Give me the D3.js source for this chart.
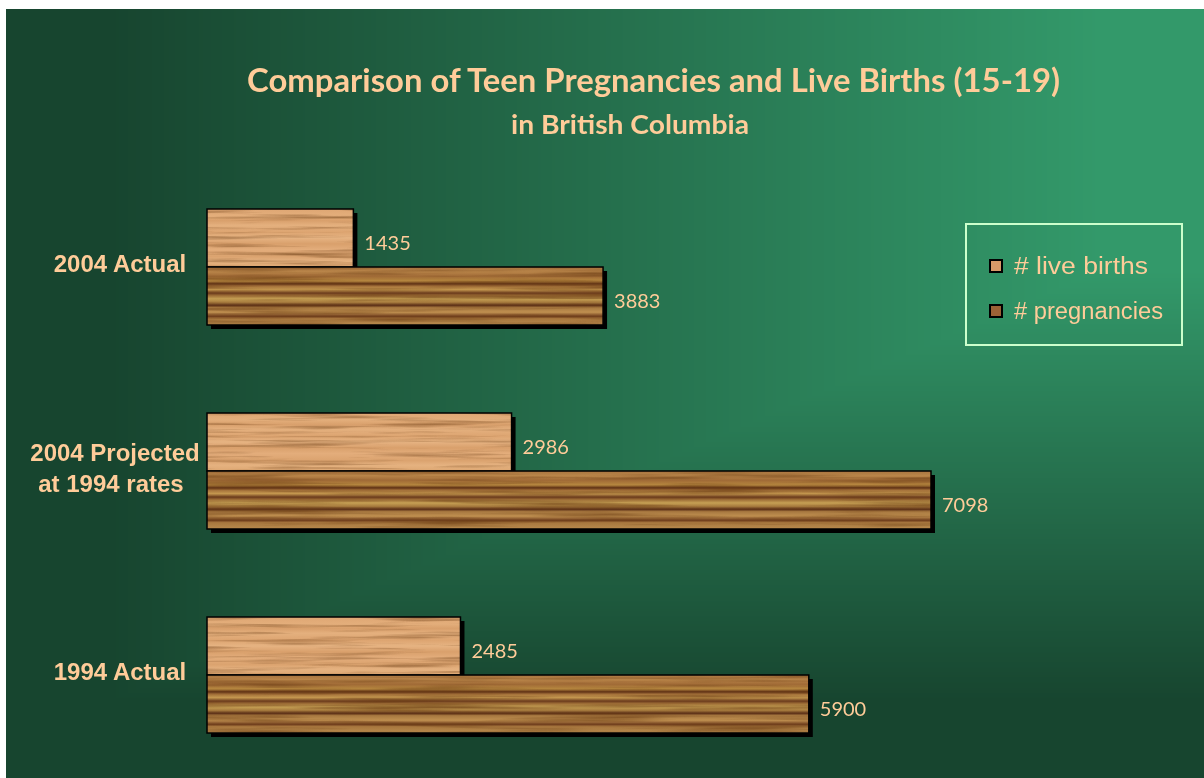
<!DOCTYPE html>
<html>
<head>
<meta charset="utf-8">
<script src="https://cdn.jsdelivr.net/npm/d3@7/dist/d3.min.js"></script>
<style>
  html, body { margin: 0; padding: 0; background: #ffffff; }
  #wrap { position: relative; width: 1204px; height: 778px; overflow: hidden; }
  #bg { position: absolute; left: 0; top: 0; }
  #chart { position: absolute; left: 0; top: 0; }
</style>
</head>
<body>
<div id="wrap">
  <canvas id="bg" width="1204" height="778"></canvas>
  <svg id="chart" width="1204" height="778"></svg>
</div>
<script>
// ---------- data ----------
const categories = ["2004 Actual", "2004 Projected|at 1994 rates", "1994 Actual"];
const seriesNames = ["# live births", "# pregnancies"];
const liveBirths = [1435, 2986, 2485];
const pregnancies = [3883, 7098, 5900];
const titleText = "Comparison of Teen Pregnancies and Live Births (15-19)";
const subtitleText = "in British Columbia";

// ---------- background (corner gradient) ----------
(function drawBg() {
  const cv = document.getElementById("bg");
  const ctx = cv.getContext("2d");
  const W = 1204, H = 778;
  const img = ctx.createImageData(W, H);
  const dark = [23, 69, 47], bright = [51, 153, 106];
  for (let y = 0; y < H; y++) {
    for (let x = 0; x < W; x++) {
      const i = (y * W + x) * 4;
      if (x < 6 || y < 9) { img.data[i] = 255; img.data[i+1] = 255; img.data[i+2] = 255; img.data[i+3] = 255; continue; }
      const h = Math.max(0, Math.min(1, (x - 110) / 990));
      const v = Math.max(0, Math.min(1, (700 - y) / 430));
      const t = Math.min(h, v);
      img.data[i]   = dark[0] + (bright[0] - dark[0]) * t;
      img.data[i+1] = dark[1] + (bright[1] - dark[1]) * t;
      img.data[i+2] = dark[2] + (bright[2] - dark[2]) * t;
      img.data[i+3] = 255;
    }
  }
  ctx.putImageData(img, 0, 0);
})();

// ---------- chart ----------
const svg = d3.select("#chart");
const defs = svg.append("defs");

// light wood gradient
const lightStops = [
  [0, "#dfa774"], [0.12, "#e3ae7b"], [0.2, "#d9a06c"], [0.28, "#e4b07e"], [0.4, "#dda571"],
  [0.5, "#e6b382"], [0.6, "#d9a06c"], [0.7, "#e3ad7b"], [0.82, "#dba36f"], [0.9, "#e5b280"], [1, "#dda772"]
];
const lg = defs.append("linearGradient").attr("id", "woodLight").attr("x1", 0).attr("y1", 0).attr("x2", 0).attr("y2", 1);
lightStops.forEach(s => lg.append("stop").attr("offset", s[0]).attr("stop-color", s[1]));

// dark wood gradient
const darkStops = [
  [0, "#a8743f"], [0.08, "#b98549"], [0.16, "#a06a36"], [0.24, "#b6873f"], [0.29, "#5e3014"], [0.33, "#a4713a"],
  [0.39, "#c4974f"], [0.45, "#6a3a1c"], [0.49, "#9a6a34"], [0.55, "#c6a054"], [0.61, "#a67a3d"], [0.66, "#5a2e16"],
  [0.7, "#a77840"], [0.78, "#c09050"], [0.85, "#6e3c1c"], [0.89, "#a8773e"], [1, "#b88a4d"]
];
const dg = defs.append("linearGradient").attr("id", "woodDark").attr("x1", 0).attr("y1", 0).attr("x2", 0).attr("y2", 1);
darkStops.forEach(s => dg.append("stop").attr("offset", s[0]).attr("stop-color", s[1]));

// grain filters
function grain(id, freq, mult, off, seed) {
  const f = defs.append("filter").attr("id", id).attr("x", 0).attr("y", 0).attr("width", 1).attr("height", 1)
    .attr("filterUnits", "objectBoundingBox").attr("color-interpolation-filters", "sRGB");
  f.append("feTurbulence").attr("type", "fractalNoise").attr("baseFrequency", freq).attr("numOctaves", 3).attr("seed", seed).attr("result", "n");
  f.append("feColorMatrix").attr("in", "n").attr("type", "matrix")
    .attr("values", `0 0 0 0 0.42  0 0 0 0 0.24  0 0 0 0 0.08  ${mult} 0 0 0 ${off}`).attr("result", "c");
  f.append("feComposite").attr("in", "c").attr("in2", "SourceGraphic").attr("operator", "in");
}
grain("grainLight", "0.008 0.25", 1.3, -0.62, 7);
grain("grainDark", "0.006 0.2", 1.6, -0.72, 4);

const x = d3.scaleLinear().domain([0, 8000]).range([207, 1023]);
const y = d3.scaleBand().domain(categories).range([165, 777]).paddingInner(88 / 204).paddingOuter(44 / 204);
const ySub = d3.scaleBand().domain(seriesNames).range([0, y.bandwidth()]).padding(0);

const fills = { "# live births": "url(#woodLight)", "# pregnancies": "url(#woodDark)" };
const grains = { "# live births": "url(#grainLight)", "# pregnancies": "url(#grainDark)" };

const rows = [];
categories.forEach((c, i) => {
  rows.push({ cat: c, series: seriesNames[0], value: liveBirths[i] });
  rows.push({ cat: c, series: seriesNames[1], value: pregnancies[i] });
});

const shadowG = svg.append("g");
const barG = svg.append("g");
rows.forEach(d => {
  const x0 = x(0), x1 = x(d.value);
  const yy = y(d.cat) + ySub(d.series), hh = ySub.bandwidth();
  shadowG.append("rect").attr("x", x0 + 4).attr("y", yy + 4).attr("width", x1 - x0).attr("height", hh).attr("fill", "#000");
  const g = barG.append("g");
  g.append("rect").attr("x", x0).attr("y", yy).attr("width", x1 - x0).attr("height", hh).attr("fill", fills[d.series]);
  g.append("rect").attr("x", x0).attr("y", yy).attr("width", x1 - x0).attr("height", hh).attr("fill", "#fff").attr("filter", grains[d.series]);
  g.append("rect").attr("x", x0).attr("y", yy).attr("width", x1 - x0).attr("height", hh).attr("fill", "none")
    .attr("stroke", "#000").attr("stroke-width", 1.5);
});

// value labels
svg.append("g").selectAll("text").data(rows).join("text")
  .attr("x", d => x(d.value) + 11)
  .attr("y", d => y(d.cat) + ySub(d.series) + ySub.bandwidth() / 2 + 12)
  .attr("fill", "#ffcc99")
  .attr("font-family", "Lato, 'Open Sans', sans-serif")
  .attr("font-size", 20)
  .text(d => d.value);

// category labels
const catG = svg.append("g");
categories.forEach(c => {
  const lines = c.split("|");
  const cy = y(c) + y.bandwidth() / 2 - 3;
  const lh = 31;
  lines.forEach((ln, k) => {
    catG.append("text")
      .attr("x", lines.length > 1 ? 115 - k * 4 : 120)
      .attr("y", cy + (k - (lines.length - 1) / 2) * lh + 8)
      .attr("text-anchor", "middle")
      .attr("fill", "#ffcc99")
      .attr("font-family", "'Liberation Sans', Arial, sans-serif")
      .attr("font-weight", "bold")
      .attr("font-size", 24)
      .text(ln);
  });
});

// title
svg.append("text").attr("x", 653.5).attr("y", 92).attr("text-anchor", "middle")
  .attr("fill", "#ffcc99").attr("font-family", "Lato, sans-serif").attr("font-weight", "bold")
  .attr("font-size", 33).attr("textLength", 813).attr("lengthAdjust", "spacingAndGlyphs").text(titleText);
svg.append("text").attr("x", 630).attr("y", 134).attr("text-anchor", "middle")
  .attr("fill", "#ffcc99").attr("font-family", "Lato, sans-serif").attr("font-weight", "bold")
  .attr("font-size", 27).attr("textLength", 238).attr("lengthAdjust", "spacingAndGlyphs").text(subtitleText);

// legend
const leg = svg.append("g");
leg.append("rect").attr("x", 966).attr("y", 224).attr("width", 216).attr("height", 121)
  .attr("fill", "none").attr("stroke", "#ccffcc").attr("stroke-width", 2);
const legSw = { "# live births": "#d99a68", "# pregnancies": "#9c6236" };
const legLen = { "# live births": 134, "# pregnancies": 149 };
seriesNames.forEach((s, i) => {
  const ly = 266 + i * 45;
  leg.append("rect").attr("x", 990).attr("y", ly - 6).attr("width", 12).attr("height", 12)
    .attr("fill", legSw[s]).attr("stroke", "#000").attr("stroke-width", 2);
  leg.append("text").attr("x", 1014).attr("y", ly + 8).attr("fill", "#ffcc99")
    .attr("font-family", "'Liberation Sans', Arial, sans-serif").attr("font-size", 23.5)
    .attr("textLength", legLen[s]).attr("lengthAdjust", "spacingAndGlyphs").text(s);
});
</script>
</body>
</html>
